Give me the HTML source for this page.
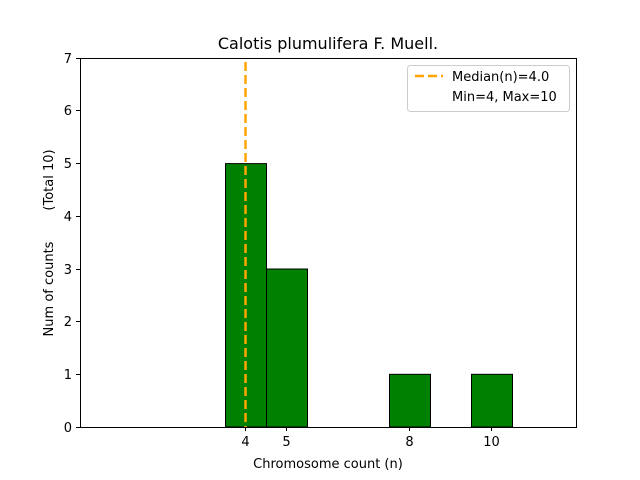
<!DOCTYPE html>
<html><head><meta charset="utf-8"><style>body{margin:0;background:#fff}svg{display:block}</style></head><body>
<svg width="640" height="480" xmlns="http://www.w3.org/2000/svg" font-family="'DejaVu Sans', 'Liberation Sans', sans-serif" font-size="13">
<rect width="640" height="480" fill="#fff"/>
<g stroke="#000" stroke-width="1" fill="#008000">
<rect x="225.5" y="163.6" width="41" height="263.4"/>
<rect x="266.5" y="269" width="41" height="158"/>
<rect x="389.5" y="374.3" width="41" height="52.7"/>
<rect x="471.5" y="374.3" width="41" height="52.7"/>
</g>
<line x1="245.5" y1="62" x2="245.5" y2="427" stroke="#FFA500" stroke-width="2.5" stroke-dasharray="9,4"/>
<rect x="80.5" y="58.5" width="496" height="369" fill="none" stroke="#000"/>
<g stroke="#000">
<line x1="245.5" y1="427" x2="245.5" y2="431"/>
<line x1="286.5" y1="427" x2="286.5" y2="431"/>
<line x1="409.5" y1="427" x2="409.5" y2="431"/>
<line x1="491.5" y1="427" x2="491.5" y2="431"/>
<line x1="76" y1="427.5" x2="80" y2="427.5"/>
<line x1="76" y1="374.5" x2="80" y2="374.5"/>
<line x1="76" y1="321.5" x2="80" y2="321.5"/>
<line x1="76" y1="269.5" x2="80" y2="269.5"/>
<line x1="76" y1="216.5" x2="80" y2="216.5"/>
<line x1="76" y1="163.5" x2="80" y2="163.5"/>
<line x1="76" y1="110.5" x2="80" y2="110.5"/>
<line x1="76" y1="58.5" x2="80" y2="58.5"/>
</g>
<g text-anchor="middle">
<text x="245.5" y="446">4</text><text x="286.5" y="446">5</text><text x="409.5" y="446">8</text><text x="491.5" y="446">10</text>
<text x="328" y="468">Chromosome count (n)</text>
<text x="328" y="49" font-size="16">Calotis plumulifera F. Muell.</text>
</g>
<g text-anchor="end">
<text x="72" y="432">0</text><text x="72" y="379">1</text><text x="72" y="326">2</text><text x="72" y="274">3</text><text x="72" y="221">4</text><text x="72" y="168">5</text><text x="72" y="115">6</text><text x="72" y="63">7</text>
</g>
<text transform="translate(53,289) rotate(-90)" text-anchor="middle">Num of counts</text>
<text transform="translate(53,180) rotate(-90)" text-anchor="middle">(Total 10)</text>
<rect x="407.5" y="65.5" width="162" height="46" rx="3" fill="#fff" stroke="#ccc"/>
<line x1="415" y1="76" x2="443" y2="76" stroke="#FFA500" stroke-width="2.5" stroke-dasharray="9,4"/>
<text x="452" y="81">Median(n)=4.0</text>
<text x="452" y="101">Min=4, Max=10</text>
</svg>
</body></html>
